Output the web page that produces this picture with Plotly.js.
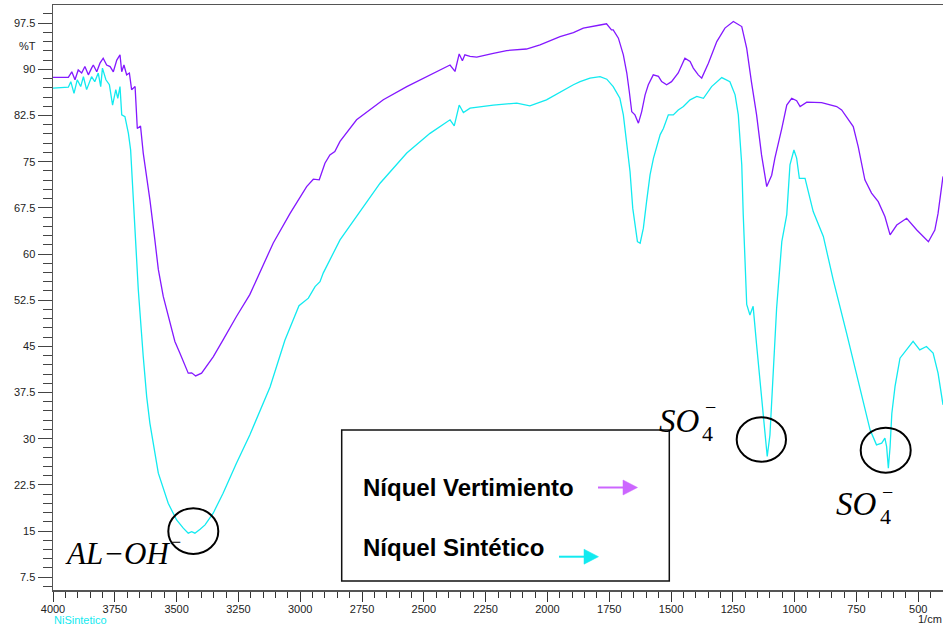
<!DOCTYPE html>
<html>
<head>
<meta charset="utf-8">
<script src="https://cdn.plot.ly/plotly-3.0.1.min.js"></script>
<style>
  html, body { margin: 0; padding: 0; background: #ffffff; }
  #chart { width: 943px; height: 625px; }
</style>
</head>
<body>
<div id="chart"></div>
<script>
// IR spectra (%T vs wavenumber, 1/cm)
const vertWavenumber = [4000, 3938, 3924, 3911, 3898, 3884, 3871, 3857, 3844, 3837, 3823, 3810, 3797, 3783, 3769, 3756, 3742, 3729, 3722, 3713, 3702, 3691, 3682, 3668, 3659, 3646, 3635, 3621, 3608, 3588, 3574, 3554, 3527, 3507, 3487, 3453, 3439, 3423, 3399, 3379, 3352, 3312, 3258, 3204, 3163, 3109, 3041, 2974, 2947, 2923, 2900, 2880, 2860, 2839, 2772, 2664, 2569, 2462, 2394, 2374, 2357, 2344, 2334, 2313, 2286, 2219, 2165, 2085, 2030, 1949, 1895, 1855, 1814, 1787, 1761, 1741, 1734, 1713, 1693, 1679, 1669, 1659, 1646, 1632, 1619, 1605, 1592, 1572, 1551, 1538, 1518, 1498, 1471, 1444, 1423, 1410, 1390, 1376, 1349, 1315, 1282, 1248, 1214, 1194, 1175, 1154, 1134, 1113, 1093, 1080, 1052, 1032, 1012, 992, 978, 951, 891, 857, 830, 810, 763, 743, 716, 689, 662, 635, 614, 587, 547, 506, 459, 433, 420, 400];
const vertT = [88.7, 88.7, 89.6, 88.3, 89.9, 89.4, 90.45, 89.1, 90.2, 90.7, 89.6, 91.0, 91.8, 90.7, 90.45, 89.6, 91.5, 92.35, 89.6, 90.7, 89.1, 89.4, 86.7, 87.2, 80.4, 80.8, 76.4, 72.6, 68.8, 62.3, 57.5, 53.1, 48.8, 45.8, 43.9, 40.65, 40.7, 40.2, 40.65, 41.7, 43.3, 46.05, 49.85, 53.4, 57.15, 61.8, 66.6, 70.95, 72.15, 72.05, 74.75, 76.1, 76.65, 78.3, 81.8, 85.05, 87.2, 89.4, 90.7, 89.65, 92.5, 91.4, 92.35, 92.1, 91.98, 92.6, 93.05, 93.3, 93.97, 95.3, 95.97, 96.7, 96.95, 97.2, 97.4, 96.4, 96.4, 95.06, 92.35, 89.4, 86.4, 83.1, 82.6, 81.25, 83.1, 85.85, 87.5, 89.1, 88.85, 88.0, 87.5, 88.0, 89.4, 91.8, 91.26, 90.2, 89.1, 88.57, 91.0, 94.5, 96.7, 97.76, 96.95, 93.4, 88.0, 82.6, 76.1, 70.95, 72.8, 75.57, 80.4, 84.2, 85.3, 84.9, 83.95, 84.67, 84.6, 84.2, 83.95, 83.4, 80.7, 77.45, 72.05, 69.9, 68.5, 66.1, 63.1, 64.7, 65.8, 63.9, 62.0, 63.9, 66.6, 72.6];

const sintWavenumber = [4000, 3938, 3928, 3915, 3902, 3888, 3877, 3864, 3844, 3831, 3817, 3807, 3800, 3786, 3772, 3759, 3746, 3738, 3729, 3722, 3709, 3695, 3686, 3675, 3664, 3655, 3635, 3621, 3608, 3574, 3534, 3500, 3473, 3453, 3439, 3426, 3405, 3385, 3352, 3312, 3258, 3204, 3122, 3062, 3005, 2967, 2940, 2920, 2907, 2880, 2839, 2772, 2677, 2569, 2475, 2394, 2377, 2357, 2340, 2313, 2219, 2124, 2071, 2004, 1922, 1895, 1868, 1828, 1787, 1760, 1734, 1707, 1693, 1679, 1666, 1655, 1645, 1636, 1625, 1612, 1599, 1585, 1571, 1544, 1531, 1511, 1491, 1471, 1450, 1423, 1396, 1369, 1336, 1295, 1262, 1241, 1228, 1214, 1208, 1201, 1194, 1181, 1168, 1154, 1140, 1127, 1117, 1111, 1100, 1089, 1073, 1052, 1032, 1019, 1003, 992, 981, 958, 925, 884, 844, 790, 736, 695, 669, 648, 635, 628, 621, 614, 607, 594, 574, 547, 521, 494, 467, 440, 420, 400];
const sintT = [86.94, 87.1, 88.0, 86.1, 88.3, 87.2, 88.8, 86.7, 88.8, 88.0, 89.4, 87.2, 90.2, 88.3, 87.5, 84.2, 86.7, 85.3, 87.2, 82.6, 82.3, 79.6, 76.9, 68.8, 61.2, 54.2, 43.35, 36.8, 32.5, 24.4, 19.5, 16.8, 15.47, 14.65, 14.9, 14.65, 15.3, 16.0, 17.9, 21.15, 26.0, 30.6, 38.4, 46.0, 51.6, 52.83, 54.7, 55.5, 56.9, 59.05, 62.3, 66.1, 71.5, 76.4, 79.6, 81.8, 80.8, 84.2, 82.98, 83.7, 84.2, 84.5, 84.07, 85.05, 86.94, 87.5, 88.0, 88.57, 88.8, 88.4, 87.2, 85.3, 82.6, 78.3, 73.4, 67.45, 64.2, 62.0, 61.76, 64.2, 68.5, 72.85, 75.57, 79.4, 80.4, 82.6, 82.6, 83.4, 83.95, 85.05, 85.6, 85.3, 87.2, 88.66, 88.0, 85.85, 82.6, 74.5, 66.4, 58.3, 51.8, 50.1, 51.5, 45.26, 39.3, 33.3, 29.0, 27.1, 30.6, 39.3, 51.2, 62.0, 66.4, 74.5, 76.9, 75.57, 72.3, 72.3, 66.9, 62.85, 55.8, 47.14, 38.5, 31.44, 29.0, 29.27, 30.08, 28.7, 25.2, 28.7, 34.1, 38.5, 43.08, 44.43, 45.8, 44.43, 44.97, 43.9, 40.65, 35.5];

const seriesNames = ['Níquel Vertimiento', 'Níquel Sintético'];
const xTickStep = 250;
const yTickStep = 7.5;

const W = 943, H = 625;
const M = { l: 53, r: 0, t: 5, b: 35 };
// pixel position -> paper fraction
const fx = x => (x - M.l) / (W - M.l - M.r);
const fy = y => (H - M.b - y) / (H - M.t - M.b);

const PURPLE = '#8418ff';
const CYAN = '#12eaf0';
const SANS = 'Liberation Sans, Arial, sans-serif';
const SERIF = 'Liberation Serif, Times New Roman, serif';

const traces = [
  { x: vertWavenumber, y: vertT, name: seriesNames[0], type: 'scatter', mode: 'lines',
    line: { color: PURPLE, width: 1.3 } },
  { x: sintWavenumber, y: sintT, name: seriesNames[1], type: 'scatter', mode: 'lines',
    line: { color: CYAN, width: 1.3 } }
];

function txt(text, x, y, size, opts) {
  return Object.assign({
    text: text, xref: 'paper', yref: 'paper', x: fx(x), y: fy(y),
    xanchor: 'left', yanchor: 'middle', showarrow: false,
    font: { family: SANS, size: size, color: '#000' }
  }, opts || {});
}

const annotations = [
  txt('%T', 38, 46, 11, { xanchor: 'right', font: { family: SANS, size: 11, color: '#222' } }),
  txt('1/cm', 944, 619, 11, { xanchor: 'right', font: { family: SANS, size: 11, color: '#222' } }),
  txt('NiSintetico', 52, 620, 11, { font: { family: SANS, size: 11, color: CYAN } }),
  txt('<b>' + seriesNames[0] + '</b>', 361, 487, 24),
  txt('<b>' + seriesNames[1] + '</b>', 361, 547, 24),
  // band labels
  txt('<i>AL−OH</i>', 64, 553.5, 31, { borderpad: 0, font: { family: SERIF, size: 31, color: '#000' } }),
  txt('−', 170, 542, 18, { borderpad: 0, font: { family: SERIF, size: 18, color: '#000' } }),
  txt('<i>SO</i>', 657, 421, 33, { font: { family: SERIF, size: 33, color: '#000' } }),
  txt('4', 700, 433, 22, { font: { family: SERIF, size: 22, color: '#000' } }),
  txt('−', 710, 407, 20, { xanchor: 'center', font: { family: SERIF, size: 20, color: '#000' } }),
  txt('<i>SO</i>', 834, 504, 33, { font: { family: SERIF, size: 33, color: '#000' } }),
  txt('4', 878, 516, 22, { font: { family: SERIF, size: 22, color: '#000' } }),
  txt('−', 887.5, 492, 20, { xanchor: 'center', font: { family: SERIF, size: 20, color: '#000' } })
];

function ring(x0, y0, x1, y1) {
  return { type: 'circle', xref: 'paper', yref: 'paper',
    x0: fx(x0), x1: fx(x1), y0: fy(y1), y1: fy(y0),
    line: { color: '#000', width: 2 } };
}
function arrow(x0, x1, y, color) {
  const head = 'M ' + fx(x1 - 14.5) + ',' + fy(y - 7.5) + ' L ' + fx(x1) + ',' + fy(y) +
               ' L ' + fx(x1 - 14.5) + ',' + fy(y + 7.5) + ' Z';
  return [
    { type: 'line', xref: 'paper', yref: 'paper', x0: fx(x0), x1: fx(x1 - 13), y0: fy(y), y1: fy(y),
      line: { color: color, width: 2 } },
    { type: 'path', xref: 'paper', yref: 'paper', path: head, fillcolor: color,
      line: { color: color, width: 0.5 } }
  ];
}

const shapes = [
  { type: 'rect', xref: 'paper', yref: 'paper', x0: fx(341.7), x1: fx(669.3), y0: fy(581), y1: fy(430),
    line: { color: '#111', width: 1.5 }, fillcolor: 'rgba(0,0,0,0)' },
  ring(168.3, 508.3, 218.3, 554),
  ring(736.7, 417.3, 786, 461.7),
  ring(860.7, 427.7, 910.7, 472.7)
].concat(arrow(598, 637.5, 487.5, '#cc66ff'), arrow(559, 598.5, 556.7, CYAN));

const layout = {
  width: W, height: H,
  margin: M,
  paper_bgcolor: '#fff', plot_bgcolor: '#fff',
  showlegend: false,
  font: { family: SANS, size: 11, color: '#222' },
  xaxis: {
    range: [4000, 400], tick0: 0, dtick: xTickStep,
    ticks: 'outside', ticklen: 10, tickwidth: 1, tickcolor: '#333',
    ticklabelstandoff: -2,
    minor: { dtick: 50, ticks: 'outside', ticklen: 6, tickwidth: 1, tickcolor: '#333' },
    showline: true, linecolor: '#555', linewidth: 1.5, mirror: true,
    showgrid: false, zeroline: false,
    tickfont: { family: SANS, size: 11, color: '#222' }
  },
  yaxis: {
    range: [5.42, 100.45], tick0: 7.5, dtick: yTickStep,
    ticks: 'outside', ticklen: 14, tickwidth: 1, tickcolor: '#444',
    minor: { dtick: 1.5, ticks: 'outside', ticklen: 9, tickwidth: 1, tickcolor: '#444' },
    showline: true, linecolor: '#555', linewidth: 1.5,
    showgrid: false, zeroline: false,
    tickfont: { family: SANS, size: 11, color: '#222' }
  },
  annotations: annotations,
  shapes: shapes
};

Plotly.newPlot('chart', traces, layout, { displayModeBar: false, staticPlot: true });
</script>
</body>
</html>
